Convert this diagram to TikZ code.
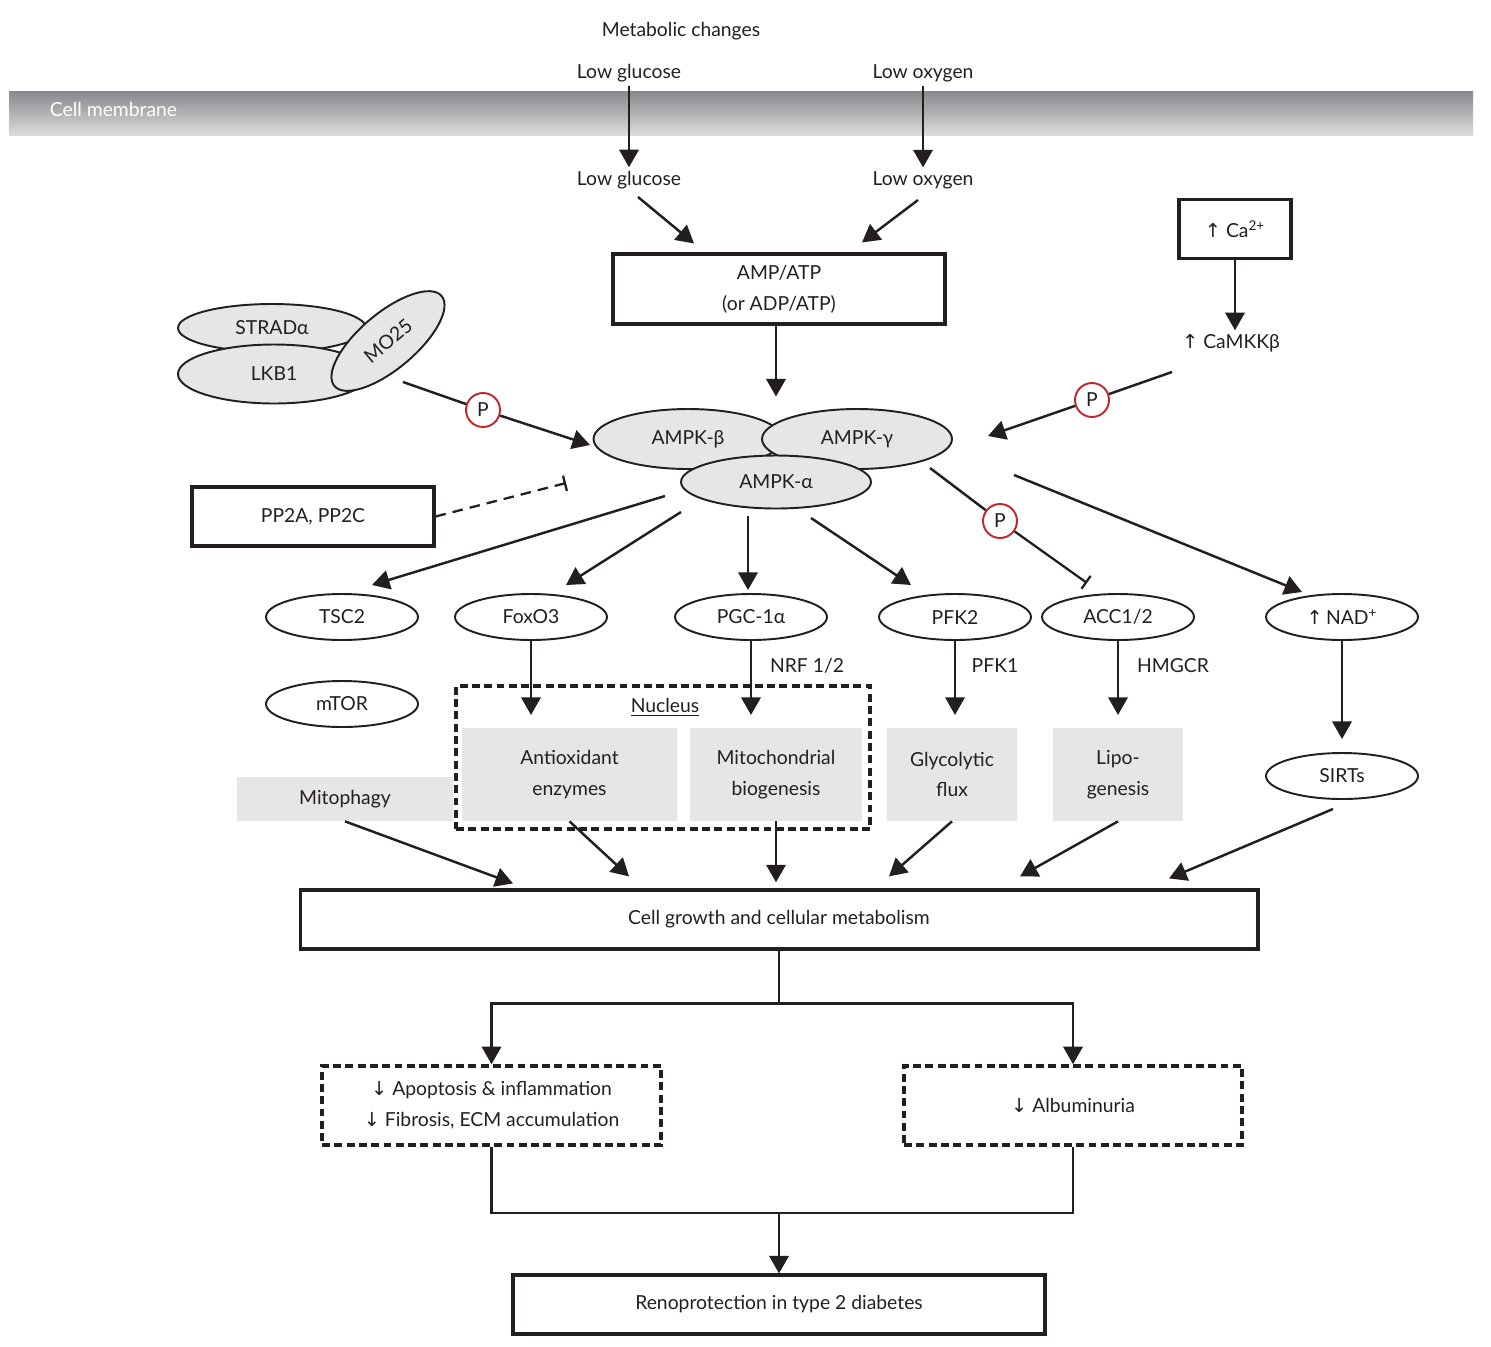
\documentclass[tikz,border=0pt]{standalone}
\usepackage{fontspec}
\setmainfont{Lato}
\newfontfamily\arrowfont{DejaVu Sans}
\usepackage{tikz}
\usetikzlibrary{arrows.meta,shapes.geometric,calc}
\usepackage{xcolor}
\definecolor{ink}{HTML}{231F20}
\definecolor{subgray}{HTML}{E6E6E6}
\definecolor{pred}{HTML}{C1272D}
\definecolor{membtop}{HTML}{88888D}
\definecolor{membbot}{HTML}{DCDCDC}
\newcommand{\upar}{{\arrowfont ↑}}
\newcommand{\downar}{{\arrowfont ↓}}

\begin{document}
\begin{tikzpicture}[
  x=0.02cm, y=-0.02cm,
  every node/.style={font=\fontsize{11}{17.5}\selectfont, text=ink},
  lbl/.style={inner sep=2pt, align=center},
  box/.style={
    draw=ink,
    line width=1.8pt,
    align=center,
    inner sep=2pt
  },
  dashbox/.style={
    draw=ink,
    line width=2pt,
    dash pattern=on 4.5pt off 2.5pt,
    align=center,
    inner sep=2pt
  },
  oval/.style={
    ellipse,
    draw=ink,
    line width=1.1pt,
    fill=white,
    inner sep=0pt,
    minimum width=3.04cm,
    minimum height=0.92cm
  },
  subunit/.style={ellipse, draw=ink, line width=1.1pt, fill=subgray, inner sep=0pt},
  effect/.style={fill=subgray, align=center, inner sep=0pt},
  phos/.style={circle, draw=pred, line width=1.1pt, fill=white, minimum size=0.68cm, inner sep=0pt},
  % connectors
  arrow/.style={-{Triangle[length=10pt,width=11pt]}, line width=1.4pt, draw=ink},
  link/.style={line width=1.4pt, draw=ink},
  inhibit/.style={-{Bar[width=9pt,line width=1.3pt]}, line width=1.3pt, draw=ink}
]
\useasboundingbox (0,0) rectangle (1491,1346);

% ------------------------------------------------
% Membrane and metabolic signals
% ------------------------------------------------
\shade[top color=membtop, bottom color=membbot] (9,91) rectangle (1473,135);
\node[lbl, text=white, anchor=west] (membrane) at (46,109) {Cell membrane};

\node[lbl] (metab) at (681,31) {Metabolic changes};
\node[lbl] (gluOut) at (629,73) {Low glucose};
\node[lbl] (oxyOut) at (923,73) {Low oxygen};
\node[lbl] (gluIn)  at (629,180) {Low glucose};
\node[lbl] (oxyIn)  at (923,180) {Low oxygen};

\node[box, minimum width=6.64cm, minimum height=1.4cm] (amp) at (779,289) {AMP/ATP\\(or ADP/ATP)};

\node[box, minimum width=2.24cm, minimum height=1.18cm] (ca) at (1235,229) {\upar\ Ca\textsuperscript{2+}};
\node[lbl] (camkk) at (1231,343) {\upar\ CaMKKβ};

% ------------------------------------------------
% Kinases
% ------------------------------------------------
\node[subunit, minimum width=3.76cm, minimum height=0.96cm] (strad) at (272,328) {STRADα};
\node[subunit, minimum width=3.84cm, minimum height=1.18cm] (lkb) at (274,374) {LKB1};
\node[subunit, minimum width=2.8cm, minimum height=1.12cm, rotate=40] (mo25) at (388,341) {MO25};

\node[subunit, minimum width=3.78cm, minimum height=1.2cm] (ampkb) at (688,439) {AMPK-β};
\node[subunit, minimum width=3.8cm, minimum height=1.2cm] (ampkg) at (857,439) {AMPK-γ};
\node[subunit, minimum width=3.8cm, minimum height=1.06cm] (ampka) at (776,482) {AMPK-α};

\node[box, minimum width=4.84cm, minimum height=1.18cm] (pp2a) at (313,516.5) {PP2A, PP2C};

\node[phos] (pL) at (483,410) {P};
\node[phos] (pR) at (1092,400) {P};
\node[phos] (pA) at (1000,521) {P};

% ------------------------------------------------
% Targets
% ------------------------------------------------
\node[oval] (tsc2) at (342,617) {TSC2};
\node[oval] (foxo) at (531,617) {FoxO3};
\node[oval] (pgc)  at (751,617) {PGC-1α};
\node[oval] (pfk2) at (955,617) {PFK2};
\node[oval] (acc)  at (1118,617) {ACC1/2};
\node[oval] (nad)  at (1342,617) {\upar\,NAD\textsuperscript{+}};
\node[oval] (mtor) at (342,704) {mTOR};
\node[oval] (sirts) at (1342,776) {SIRTs};

\node[lbl] (nrf)   at (807,666) {NRF 1/2};
\node[lbl] (pfk1)  at (995,666) {PFK1};
\node[lbl] (hmgcr) at (1173,666) {HMGCR};

\node[effect, minimum width=4.32cm, minimum height=0.88cm] (mitoph) at (345,799) {Mitophagy};
\node[effect, minimum width=4.3cm, minimum height=1.86cm] (antiox) at (569.5,774.5) {Antioxidant\\enzymes};
\node[effect, minimum width=3.44cm, minimum height=1.86cm] (mitob) at (776,774.5) {Mitochondrial\\biogenesis};
\node[effect, minimum width=2.6cm, minimum height=1.86cm] (glyco) at (952,774.5) {Glycolytic\\flux};
\node[effect, minimum width=2.6cm, minimum height=1.86cm] (lipo) at (1118,774.5) {Lipo-\\genesis};

\node[dashbox, minimum width=8.28cm, minimum height=2.86cm] (nucleus) at (663,757.5) {};
\node[lbl] (nuclbl) at (665,707) {\underline{Nucleus}};

% ------------------------------------------------
% Outcomes
% ------------------------------------------------
\node[box, minimum width=19.16cm, minimum height=1.18cm] (cell) at (779,919.5) {Cell growth and cellular metabolism};
\node[dashbox, minimum width=6.78cm, minimum height=1.58cm] (apop) at (491.5,1105.5)
  {\downar\ Apoptosis \& inflammation\\\downar\ Fibrosis, ECM accumulation};
\node[dashbox, minimum width=6.76cm, minimum height=1.58cm] (album) at (1073,1105.5) {\downar\ Albuminuria};
\node[box, minimum width=10.64cm, minimum height=1.18cm] (reno) at (779,1304.5) {Renoprotection in type 2 diabetes};

% ------------------------------------------------
% Arrows — signals to AMPK
% ------------------------------------------------
\draw[arrow] (gluOut) -- (gluIn);
\draw[arrow] (oxyOut) -- (oxyIn);
\draw[arrow] ($(gluIn)+(9,17)$) -- ($(amp.north)+(-85,-9)$);
\draw[arrow] ($(oxyIn)+(-5,20)$) -- ($(amp.north)+(83,-10)$);
\draw[arrow, shorten >=1.16cm] (amp.south -| ampka) -- (ampka.north);

\draw[arrow] (ca.south) -- (ca.south |- camkk.north);
\draw[link] ($(camkk)+(-59,29)$) -- (pR);
\draw[arrow] (pR) -- ($(ampkg)+(131,-3)$);

\draw[link] ($(mo25)+(15,41)$) -- (pL);
\draw[arrow] (pL) -- ($(ampkb)+(-98,6)$);

\draw[inhibit, dash pattern=on 6pt off 4pt] (pp2a.east) -- ($(ampka.west)+(-114,1)$);

% Arrows — AMPK to targets
\draw[arrow] ($(ampka)+(-111,14)$) -- ($(tsc2)+(30,-32)$);
\draw[arrow] ($(ampka)+(-95,30)$) -- ($(foxo)+(35,-32)$);
\draw[arrow] ($(ampka)+(-28,34)$) -- ($(pgc)+(-3,-27)$);
\draw[arrow] ($(ampka)+(35,36)$) -- ($(pfk2)+(-44,-32)$);
\draw[link] ($(ampkg)+(73,29)$) -- (pA);
\draw[inhibit] (pA) -- ($(acc)+(-31,-34)$);
\draw[arrow] ($(ampkg)+(157,36)$) -- ($(nad)+(-40,-25)$);

% Targets to effects
\draw[arrow] (foxo.south) -- ++(0,74);
\draw[arrow] (pgc.south) -- ++(0,74);
\draw[arrow] (pfk2.south) -- ++(0,74);
\draw[arrow] (acc.south) -- ++(0,74);
\draw[arrow, shorten >=0.26cm] (nad) -- (sirts);

% Effects to cell growth
\draw[arrow] (mitoph.south) -- ($(cell.north)+(-266,-5)$);
\draw[arrow] (antiox.south) -- ($(cell.north)+(-150,-12)$);
\draw[arrow] (mitob.south) -- ++(0,61);
\draw[arrow] (glyco.south) -- ($(cell.north)+(110,-12)$);
\draw[arrow] (lipo.south) -- ($(cell.north)+(241,-12)$);
\draw[arrow] ($(sirts.south)+(-9,9)$) -- ($(cell.north)+(390,-10)$);

% Cell growth to outcomes
\draw[link] (cell.south) -- ++(0,53) coordinate (split);
\draw[arrow] (split) -| (apop.north);
\draw[arrow] (split) -| (album.north);
\draw[link] (apop.south) -- ++(0,66) coordinate (mergeL) -| (album.south);
\draw[arrow] (mergeL -| reno.north) -- (reno.north);

\end{tikzpicture}
\end{document}
